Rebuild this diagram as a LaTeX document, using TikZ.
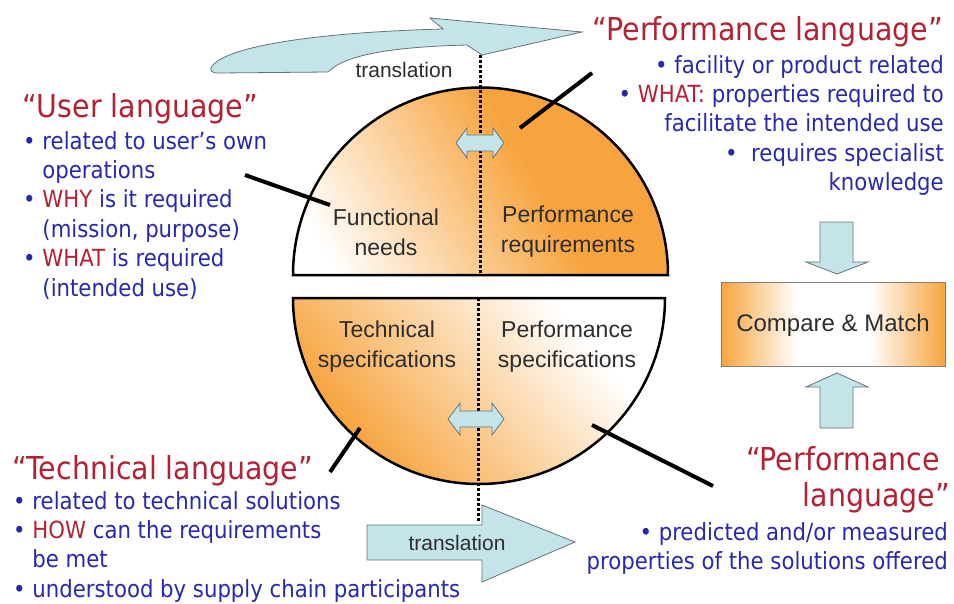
\documentclass[tikz,border=0pt]{standalone}
\usepackage{fontspec}
\setmainfont{Liberation Sans}
\newfontfamily\langfont{DejaVu Sans Condensed}
\usepackage{tikz}
\usetikzlibrary{positioning}

\definecolor{boxorange}{RGB}{247,164,62}
\definecolor{arrowblue}{RGB}{197,228,234}
\definecolor{arrowline}{RGB}{100,115,120}
\definecolor{langred}{RGB}{178,34,52}
\definecolor{langblue}{RGB}{40,40,175}
\definecolor{labelgray}{RGB}{45,45,45}

\pgfdeclareverticalshading{domefade}{100bp}{color(0bp)=(white); color(22bp)=(white); color(58bp)=(boxorange); color(100bp)=(boxorange)}
\pgfdeclareverticalshading{bowlfade}{100bp}{color(0bp)=(boxorange); color(28bp)=(boxorange); color(70bp)=(white); color(100bp)=(white)}
\pgfdeclarehorizontalshading{boxfade}{100bp}{color(0bp)=(boxorange); color(25bp)=(boxorange); color(42bp)=(white); color(58bp)=(white); color(75bp)=(boxorange); color(100bp)=(boxorange)}

\begin{document}
\begin{tikzpicture}[x=1pt, y=-1pt,
  langtitle/.style={font=\langfont\fontsize{31.6}{36}\selectfont, text=langred, inner sep=0pt},
  langbody/.style={font=\langfont\fontsize{23.6}{29.4}\selectfont, text=langblue, inner sep=0pt},
  shapelabel/.style={font=\fontsize{23}{30}\selectfont, text=labelgray, align=center, inner sep=0pt},
  translabel/.style={font=\fontsize{21}{24}\selectfont, text=labelgray, inner sep=0pt},
  transarrow/.style={draw=arrowline, line width=0.8pt, fill=arrowblue},
  pointer/.style={line width=4pt},
  halfcircle/.style={draw=black, line width=2.5pt},
  divider/.style={line width=3pt, dash pattern=on 3pt off 2pt}]
\useasboundingbox[fill=white] (0,0) rectangle (954,603);
\def \midx {480}
\def \domebase {275}
\def \bowltop {298}

%upper half: functional needs / performance requirements
\path[halfcircle, shading=domefade, shading angle=-60] (293,\domebase) -- (668,\domebase) arc[start angle=0, end angle=-180, radius=187.5] -- cycle;
%lower half: technical / performance specifications
\path[halfcircle, shading=bowlfade, shading angle=-50] (293,\bowltop) -- (665,\bowltop) arc[start angle=0, end angle=180, radius=186] -- cycle;

%translation arrows
\draw[transarrow] (443,29) .. controls (330,32) and (232,44) .. (213,65) .. controls (208,71) and (212,73) .. (219,73) -- (328,72) .. controls (345,55) and (390,47) .. (467,45) -- (482,55) -- (582,32) -- (430,18) -- cycle;
\node[translabel] (toptrans) at (404,70) {translation};
\draw[transarrow] (367,525) -- (482,525) -- (482,505) -- (575,542) -- (482,582) -- (482,560) -- (367,560) -- cycle;
\node[translabel] (bottrans) at (457,543) {translation};

%dotted dividers
\draw[divider] (\midx,55) -- (\midx,\domebase);
\draw[divider] (478,\bowltop) -- (478,522);

%double arrows across the divider
\draw[transarrow] (456,143) -- (467,128) -- (467,135) -- (493,135) -- (493,128) -- (504,143) -- (493,158) -- (493,151) -- (467,151) -- (467,158) -- cycle;
\draw[transarrow] (448,419) -- (460,403) -- (460,411) -- (492,411) -- (492,403) -- (504,419) -- (492,435) -- (492,427) -- (460,427) -- (460,435) -- cycle;

%labels in the circle
\node[shapelabel] (funcneeds) at (386,232) {Functional\\needs};
\node[shapelabel] (perfreq) at (568,232) {Performance\\requirements};
\node[shapelabel] (techspec) at (387,347) {Technical\\specifications};
\node[shapelabel] (perfspec) at (567,347) {Performance\\specifications};

%compare and match
\draw[transarrow] (820,222) -- (853,222) -- (853,262) -- (868,262) -- (837,274) -- (806,262) -- (820,262) -- cycle;
\draw[transarrow] (837,373) -- (868,387) -- (853,387) -- (853,428) -- (820,428) -- (820,387) -- (806,387) -- cycle;
\path[shading=boxfade, draw=gray, line width=0.8pt] (721,282) rectangle (945,366);
\node[shapelabel, font=\fontsize{24}{30}\selectfont] (compare) at (833,325) {Compare \& Match};

%user language
\node[langtitle, anchor=base west] (usertitle) at (22,117) {“User language”};
\node[langbody, anchor=north west, align=left] (userbody) at (23,131) {• related to user’s own\\\phantom{• }operations\\• {\color{langred}WHY} is it required\\\phantom{• }(mission, purpose)\\• {\color{langred}WHAT} is required\\\phantom{• }(intended use)};

%performance language (requirements)
\node[langtitle, anchor=base east] (perftitle) at (943,40) {“Performance language”};
\node[langbody, anchor=north east, align=right] (perfbody) at (944,55) {• facility or product related\\• {\color{langred}WHAT:} properties required to\\facilitate the intended use\\•\ \ requires specialist\\knowledge};

%technical language
\node[langtitle, anchor=base west] (techtitle) at (12,479) {“Technical language”};
\node[langbody, anchor=north west, align=left] (techbody) at (13,491) {• related to technical solutions\\• {\color{langred}HOW} can the requirements\\\phantom{• }be met\\• understood by supply chain participants};

%performance language (specifications)
\node[langtitle, anchor=north east, align=right] (spectitle) at (950,446) {“Performance\rule{10pt}{0pt}\\language”};
\node[langbody, anchor=north east, align=right] (specbody) at (948,522) {• predicted and/or measured\\properties of the solutions offered};

%pointer lines
\coordinate (userptr) at (245,175);
\coordinate (userend) at (330,205);
\coordinate (perfptr) at (592,73);
\coordinate (perfend) at (520,128);
\coordinate (techptr) at (330,472);
\coordinate (techend) at (360,428);
\coordinate (specptr) at (713,486);
\coordinate (specend) at (592,425);
\draw[pointer] (userptr) -- (userend);
\draw[pointer] (perfptr) -- (perfend);
\draw[pointer] (techptr) -- (techend);
\draw[pointer] (specptr) -- (specend);
\end{tikzpicture}
\end{document}
